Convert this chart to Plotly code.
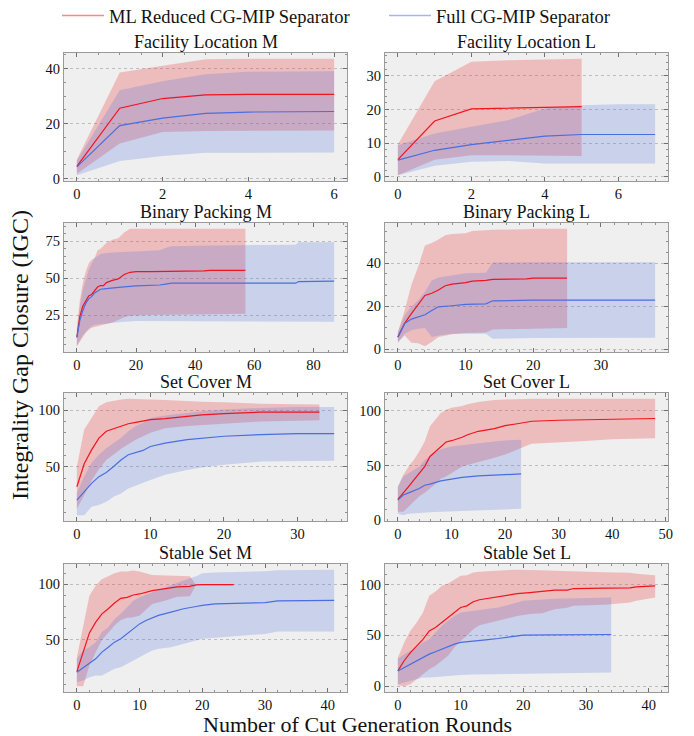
import plotly.graph_objects as go

# ---------------- data ----------------
PANEL_TITLES = ["Facility Location M", "Facility Location L", "Binary Packing M", "Binary Packing L",
                "Set Cover M", "Set Cover L", "Stable Set M", "Stable Set L"]
SERIES_NAMES = ["ML Reduced CG-MIP Separator", "Full CG-MIP Separator"]
X_TICK_STEP = [2, 2, 20, 10, 10, 10, 10, 10]
Y_TICK_STEP = [20, 10, 25, 20, 50, 50, 50, 50]

# Facility Location M
FLM_ML_X = [0, 1, 2, 3, 4, 5, 6]
FLM_ML_MEAN = [4.5, 25.6, 29.1, 30.4, 30.6, 30.6, 30.6]
FLM_ML_HI = [7, 38.5, 41, 43.3, 43.5, 43.5, 43.5]
FLM_ML_LO = [1.8, 12.8, 17, 17.3, 17.5, 17.5, 17.5]
FLM_FULL_X = [0, 1, 2, 3, 4, 5, 6]
FLM_FULL_MEAN = [4.3, 19.3, 22, 23.7, 24.2, 24.4, 24.4]
FLM_FULL_HI = [6.5, 32.1, 35.4, 37.9, 38.8, 39, 39]
FLM_FULL_LO = [1.3, 6.4, 8.3, 9.4, 9.5, 9.5, 9.5]

# Facility Location L
FLL_ML_X = [0, 1, 2, 3, 4, 5]
FLL_ML_MEAN = [5.1, 16.6, 20.2, 20.5, 20.6, 20.9]
FLL_ML_HI = [9.6, 28.4, 34.2, 34.7, 34.9, 35.1]
FLL_ML_LO = [0.5, 5.1, 6.4, 6.4, 6.4, 6.2]
FLL_FULL_X = [0, 1, 2, 3, 4, 5, 6, 7]
FLL_FULL_MEAN = [5, 7.9, 9.6, 10.9, 12.1, 12.6, 12.6, 12.6]
FLL_FULL_HI = [9.4, 12.9, 14.9, 16.8, 20.3, 21.3, 21.6, 21.6]
FLL_FULL_LO = [0.5, 3.3, 4.5, 4.7, 4, 4, 4, 4]

# Binary Packing M
BPM_ML_X = [0, 1, 2, 3, 4, 5, 6, 7, 8, 9, 10, 11, 12, 14, 16, 18, 20, 25, 30, 43, 45, 57]
BPM_ML_MEAN = [10, 24, 31, 35, 38, 39, 41.5, 44, 45, 45, 47, 48, 48.5, 49.5, 52.5, 54, 54.5, 54.5, 54.5, 55, 55.3, 55.3]
BPM_ML_HI = [17, 35, 46.5, 54.5, 60, 62.5, 63.6, 69, 70, 72, 74, 75, 76, 77, 81, 83.4, 83.4, 83.4, 83.4, 83.4, 83.4, 83.4]
BPM_ML_LO = [4, 7, 10, 13, 15, 16.5, 17.5, 17.8, 18, 18.5, 19, 19.5, 20, 21.5, 23.5, 24.5, 24.8, 25, 25.3, 25.7, 25.8, 26]
BPM_FULL_X = [0, 1, 2, 3, 4, 5, 6, 7, 8, 10, 12, 15, 20, 25, 28, 30, 32, 40, 60, 74, 75, 87]
BPM_FULL_MEAN = [10, 21.5, 28, 33, 36, 37.5, 40, 41.5, 42.5, 43, 43.6, 44, 44.8, 45, 45.4, 46, 46.6, 46.6, 46.6, 46.6, 47.7, 48]
BPM_FULL_HI = [14.8, 30.7, 42, 49, 55.7, 60, 63.6, 65, 66.4, 67, 67.3, 67.7, 68, 68.6, 69, 70.4, 71.6, 72, 72.3, 72.7, 74.3, 74.3]
BPM_FULL_LO = [4, 8, 11.4, 13.6, 16, 17.5, 18.4, 18.8, 19, 19.3, 19.8, 20.4, 21, 21, 21, 21, 21, 20.8, 20.5, 20.5, 20.5, 20.5]

# Binary Packing L
BPL_ML_X = [0, 1, 2, 3, 4, 5, 6, 7, 8, 10, 11, 13, 14, 19, 20, 25]
BPL_ML_MEAN = [5.6, 12, 16.5, 20.5, 25, 26, 27.5, 29.5, 30.3, 31, 31.7, 32, 32.5, 32.7, 33.1, 33.1]
BPL_ML_HI = [8, 18, 30, 38.4, 48.3, 49.4, 51, 53, 53.6, 54, 55, 55.3, 55.6, 55.8, 56, 56]
BPL_ML_LO = [3.3, 6.4, 3, 2.8, 1.4, 3.3, 5.6, 6.4, 6.9, 7.5, 7.6, 7.7, 9.2, 9.4, 9.5, 9.8]
BPL_FULL_X = [0, 1, 2, 3, 4, 5, 6, 8, 10, 13, 14, 20, 38]
BPL_FULL_MEAN = [5.6, 12, 14, 15, 16, 18, 19.7, 20.2, 20.8, 21.1, 22.5, 22.8, 22.8]
BPL_FULL_HI = [8, 15.8, 19.7, 22.8, 26.7, 32, 33.4, 34.5, 35.3, 35.6, 40.3, 40.5, 40.5]
BPL_FULL_LO = [2.8, 7.2, 8.8, 9.5, 9.8, 5.6, 6.4, 7.2, 7.2, 7.2, 4.8, 5.2, 5.3]

# Set Cover M
SCM_ML_X = [0, 1, 2, 3, 4, 5, 6, 7, 8, 10, 12, 15, 17, 20, 25, 33]
SCM_ML_MEAN = [32.5, 52.7, 65, 75.4, 81.4, 83.5, 85.8, 88, 89.3, 91.7, 92.6, 94.7, 95.8, 97, 98.2, 98.2]
SCM_ML_HI = [50, 83, 93, 103.5, 107, 108.5, 109.5, 110, 110, 109.5, 109, 108, 107.5, 107, 105.6, 105]
SCM_ML_LO = [13, 25, 38, 48, 56, 61, 66, 70, 74, 80, 84, 86, 87, 88, 90, 91]
SCM_FULL_X = [0, 1, 2, 3, 4, 5, 6, 7, 8, 9, 10, 12, 15, 17, 20, 25, 30, 35]
SCM_FULL_MEAN = [20.7, 28, 35.5, 41.4, 45, 50.3, 56, 60.7, 62.7, 64.5, 68, 71, 74, 75.4, 77, 78.4, 79.3, 79.3]
SCM_FULL_HI = [27, 41.4, 53.3, 60.7, 66.5, 71, 75.4, 81.4, 85.8, 89, 93, 95.3, 97.6, 99, 100.6, 102, 102.7, 102.7]
SCM_FULL_LO = [7.4, 7.4, 14.8, 16.3, 19.2, 23.7, 26.6, 31, 34, 36, 38.5, 43, 47.3, 49.5, 51.8, 54.7, 55.3, 55.3]

# Set Cover L
SCL_ML_X = [0, 1, 2, 3, 4, 5, 6, 7, 8, 9, 10, 12, 13, 15, 18, 20, 22, 24, 25, 30, 35, 40, 48]
SCL_ML_MEAN = [19, 24.5, 30.7, 36.8, 43, 49, 58.3, 63, 67, 71.5, 72.7, 75.8, 78.2, 81.3, 83.7, 86.5, 88, 89.6, 90.5, 91.4, 92, 92.3, 93]
SCL_ML_HI = [30.7, 41.4, 49, 55.2, 63, 72, 86, 92, 98, 101, 102.8, 104.5, 106, 108, 110, 110.4, 110.7, 111, 111, 111, 111, 111, 111]
SCL_ML_LO = [7.7, 7.7, 12, 17, 22, 25, 29, 33, 38, 40, 43, 49, 50.5, 53.5, 57, 60, 64, 68, 70, 71, 72.5, 74, 75]
SCL_FULL_X = [0, 1, 2, 3, 4, 5, 6, 8, 10, 12, 15, 18, 20, 23]
SCL_FULL_MEAN = [18.4, 23, 25, 26.7, 29, 32, 33, 36, 37.4, 39.2, 40.5, 41.4, 41.4, 42.3]
SCL_FULL_HI = [30.7, 40, 43, 46, 49, 55, 59, 65, 67.5, 68.5, 70.5, 72, 73, 73.6]
SCL_FULL_LO = [6, 4.6, 6, 6.3, 6.7, 7, 7.2, 7.7, 8, 8.3, 8.8, 9.4, 10, 10.4]

# Stable Set M
SSM_ML_X = [0, 1, 2, 3, 4, 5, 6, 7, 8, 9, 10, 12, 14, 16, 18, 19, 20, 25]
SSM_ML_MEAN = [21.5, 39, 56.3, 66, 73.4, 78, 83.2, 87.4, 88.3, 90.4, 91.3, 94.3, 95.8, 97.6, 98.2, 99.4, 99.7, 99.7]
SSM_ML_HI = [34.4, 62.9, 89.8, 98.8, 104.8, 107.2, 110, 111.4, 111.4, 112.3, 111.4, 108.4, 107.8, 107.2, 107.2, 99.4, 99.7, 99.7]
SSM_ML_LO = [8.4, 8.4, 27, 39, 50, 57, 63, 68, 70, 70.4, 71.9, 82.3, 85.3, 88.9, 89.2, 99.4, 99.7, 99.7]
SSM_FULL_X = [0, 1, 2, 3, 4, 5, 6, 7, 8, 9, 10, 11, 12, 13, 15, 17, 19, 20, 22, 25, 30, 32, 41]
SSM_FULL_MEAN = [21, 25.4, 29, 33, 39, 43.4, 48, 51, 55.4, 60, 64.4, 67.4, 69.8, 72, 75, 78, 80, 81, 82.3, 83, 83.5, 85, 85.6]
SSM_FULL_HI = [33, 40.4, 43.4, 48, 57, 61.4, 68.9, 73.4, 79.3, 85.3, 88.3, 90.5, 92.8, 95, 98.8, 103.3, 107.2, 110, 110.5, 110.8, 111.7, 112.5, 113]
SSM_FULL_LO = [12, 13.5, 16.5, 18, 18, 21, 24, 25.4, 28.4, 31.4, 34.4, 37.5, 40.4, 42, 43.4, 46.4, 49.4, 51, 52, 53.3, 55.4, 57.5, 57.5]

# Stable Set L
SSL_ML_X = [0, 1, 2, 3, 4, 5, 6, 7, 8, 9, 10, 11, 12, 13, 15, 17, 19, 21, 23, 25, 27, 28, 33, 37, 38, 41]
SSL_ML_MEAN = [15, 25, 33, 39.7, 46, 54.4, 57.7, 62.6, 67.5, 71.8, 77.4, 79, 83, 85, 87.2, 89.5, 91, 92, 93, 94.4, 94.4, 96, 96.4, 96.7, 97.7, 98.7]
SSL_ML_HI = [28, 43, 54.4, 62.6, 72.5, 89, 93, 98.7, 101, 105, 108.5, 109, 111.8, 112.5, 113.4, 114, 114.4, 114.4, 114, 113.4, 113, 112.5, 112, 111.5, 110.5, 109]
SSL_ML_LO = [1, 0, 2, 7, 12, 16.7, 20, 25, 30, 38, 44.6, 49.5, 56, 60, 62.6, 66, 69, 71, 71.8, 75.7, 77, 79, 80, 82.3, 84, 87.2]
SSL_FULL_X = [0, 1, 2, 3, 4, 5, 6, 7, 8, 9, 10, 12, 14, 16, 18, 20, 25, 34]
SSL_FULL_MEAN = [15, 18.4, 21.6, 25, 28.2, 31.5, 33.8, 36.4, 39, 41.3, 43, 44.6, 45.6, 46.9, 48.5, 50.2, 50.5, 50.8]
SSL_FULL_HI = [27, 31.5, 34.8, 38, 43, 46.2, 52.8, 59.3, 64.3, 69, 72.5, 74, 75.7, 77.4, 80.6, 84, 86, 87.2]
SSL_FULL_LO = [2, 3.6, 5.2, 7, 8.5, 8.5, 8.5, 9, 10, 10.5, 11, 11.5, 11.8, 12, 12.2, 12.5, 12.8, 13.4]

PANELS = [
    ((FLM_ML_X, FLM_ML_MEAN, FLM_ML_LO, FLM_ML_HI), (FLM_FULL_X, FLM_FULL_MEAN, FLM_FULL_LO, FLM_FULL_HI)),
    ((FLL_ML_X, FLL_ML_MEAN, FLL_ML_LO, FLL_ML_HI), (FLL_FULL_X, FLL_FULL_MEAN, FLL_FULL_LO, FLL_FULL_HI)),
    ((BPM_ML_X, BPM_ML_MEAN, BPM_ML_LO, BPM_ML_HI), (BPM_FULL_X, BPM_FULL_MEAN, BPM_FULL_LO, BPM_FULL_HI)),
    ((BPL_ML_X, BPL_ML_MEAN, BPL_ML_LO, BPL_ML_HI), (BPL_FULL_X, BPL_FULL_MEAN, BPL_FULL_LO, BPL_FULL_HI)),
    ((SCM_ML_X, SCM_ML_MEAN, SCM_ML_LO, SCM_ML_HI), (SCM_FULL_X, SCM_FULL_MEAN, SCM_FULL_LO, SCM_FULL_HI)),
    ((SCL_ML_X, SCL_ML_MEAN, SCL_ML_LO, SCL_ML_HI), (SCL_FULL_X, SCL_FULL_MEAN, SCL_FULL_LO, SCL_FULL_HI)),
    ((SSM_ML_X, SSM_ML_MEAN, SSM_ML_LO, SSM_ML_HI), (SSM_FULL_X, SSM_FULL_MEAN, SSM_FULL_LO, SSM_FULL_HI)),
    ((SSL_ML_X, SSL_ML_MEAN, SSL_ML_LO, SSL_ML_HI), (SSL_FULL_X, SSL_FULL_MEAN, SSL_FULL_LO, SSL_FULL_HI)),
]

# ---------------- style ----------------
OFF = 8                      # page body margin in the browser
W, H = 694 - OFF, 736 - OFF  # figure size so that it fits the window
FONT = "'Liberation Serif', 'Times New Roman', 'DejaVu Serif', serif"
LINE_COLORS = ["#f0141e", "#4a6ee0"]
FILL_COLORS = ["rgba(232, 60, 60, 0.28)", "rgba(70, 105, 225, 0.22)"]
LEGEND_COLORS = ["rgba(240, 20, 30, 0.5)", "rgba(74, 110, 224, 0.5)"]
COL_PX = [(64, 347), (385, 668)]              # in window pixels
ROW_PX = [(53, 181), (223, 352), (393, 521), (564, 692)]


def px_x(p):
    return (p - OFF) / W


def px_y(p):
    return 1 - (p - OFF) / H


fig = go.Figure()
annotations = []

for i, (title, series) in enumerate(zip(PANEL_TITLES, PANELS)):
    r, c = divmod(i, 2)
    ax = i + 1
    xa = "x" if ax == 1 else f"x{ax}"
    ya = "y" if ax == 1 else f"y{ax}"
    for s, (xs, mean, lo, hi) in enumerate(series):
        fig.add_trace(go.Scatter(
            x=list(xs) + list(xs)[::-1], y=list(hi) + list(lo)[::-1],
            fill="toself", fillcolor=FILL_COLORS[s], line=dict(width=0),
            mode="lines", hoverinfo="skip", showlegend=False, xaxis=xa, yaxis=ya))
    for s, (xs, mean, lo, hi) in enumerate(series):
        fig.add_trace(go.Scatter(
            x=xs, y=mean, mode="lines", line=dict(color=LINE_COLORS[s], width=1.2),
            name=SERIES_NAMES[s], showlegend=False, xaxis=xa, yaxis=ya))

    allx = [v for sr in series for v in sr[0]]
    ally = [v for sr in series for v in sr[2] + sr[3]]
    x0, x1 = min(allx), max(allx)
    y0, y1 = min(ally), max(ally)
    pdx = 0.05 * (x1 - x0)
    pdy = 0.05 * (y1 - y0)

    (l, rgt) = COL_PX[c]
    (t, b) = ROW_PX[r]
    xdom = [px_x(l), px_x(rgt)]
    ydom = [px_y(b), px_y(t)]

    xs_step = X_TICK_STEP[i]
    ys_step = Y_TICK_STEP[i]
    xminor = xs_step / (4 if xs_step in (2, 20) else 5)
    yminor = ys_step / (4 if ys_step == 20 else 5)

    common = dict(showline=True, linecolor="#9a9a9a", linewidth=1, mirror="ticks",
                  ticks="inside", ticklen=4, tickcolor="#707070", tickwidth=0.8,
                  tickfont=dict(family=FONT, size=14.5, color="#111"), zeroline=False,
                  automargin=False)
    fig.layout[f"xaxis{ax if ax > 1 else ''}"] = dict(
        common, domain=xdom, anchor=ya, range=[x0 - pdx, x1 + pdx], dtick=xs_step, tick0=0,
        showgrid=False, minor=dict(ticks="inside", ticklen=2, tickcolor="#909090", dtick=xminor, tick0=0, showgrid=False))
    fig.layout[f"yaxis{ax if ax > 1 else ''}"] = dict(
        common, domain=ydom, anchor=xa, range=[y0 - pdy, y1 + pdy], dtick=ys_step, tick0=0,
        showgrid=True, gridcolor="#bdbdbd", griddash="dot", gridwidth=0.8,
        minor=dict(ticks="inside", ticklen=2, tickcolor="#909090", dtick=yminor, tick0=0, showgrid=False))

    annotations.append(dict(text=title, x=(xdom[0] + xdom[1]) / 2, y=ydom[1], xref="paper", yref="paper",
                            xanchor="center", yanchor="bottom", yshift=-1, showarrow=False,
                            font=dict(family=FONT, size=18, color="#111")))

LEGEND_IDS = ["legend", "legend2"]
for s in range(2):
    fig.add_trace(go.Scatter(x=[None], y=[None], mode="lines", name=SERIES_NAMES[s],
                             line=dict(color=LEGEND_COLORS[s], width=1.5), showlegend=True,
                             legend=LEGEND_IDS[s]))

annotations.append(dict(text="Integrality Gap Closure (IGC)", x=px_x(20), y=px_y(355), xref="paper", yref="paper",
                        textangle=-90, showarrow=False, xanchor="center", yanchor="middle",
                        font=dict(family=FONT, size=24, color="#111")))
annotations.append(dict(text="Number of Cut Generation Rounds", x=px_x(357), y=px_y(724.5), xref="paper", yref="paper",
                        showarrow=False, xanchor="center", yanchor="middle",
                        font=dict(family=FONT, size=22, color="#111")))

legend_common = dict(orientation="h", yanchor="middle", y=px_y(16), xanchor="left",
                     font=dict(family=FONT, size=18.5, color="#111"), itemwidth=42,
                     bgcolor="rgba(0,0,0,0)", borderwidth=0)

fig.update_layout(
    width=W, height=H, margin=dict(l=0, r=0, t=0, b=0, autoexpand=False),
    paper_bgcolor="white", plot_bgcolor="#efefef",
    font=dict(family=FONT),
    annotations=annotations,
    legend=dict(legend_common, x=px_x(57)),
    legend2=dict(legend_common, x=px_x(384)),
    showlegend=True,
)

fig.write_html("out.html")
